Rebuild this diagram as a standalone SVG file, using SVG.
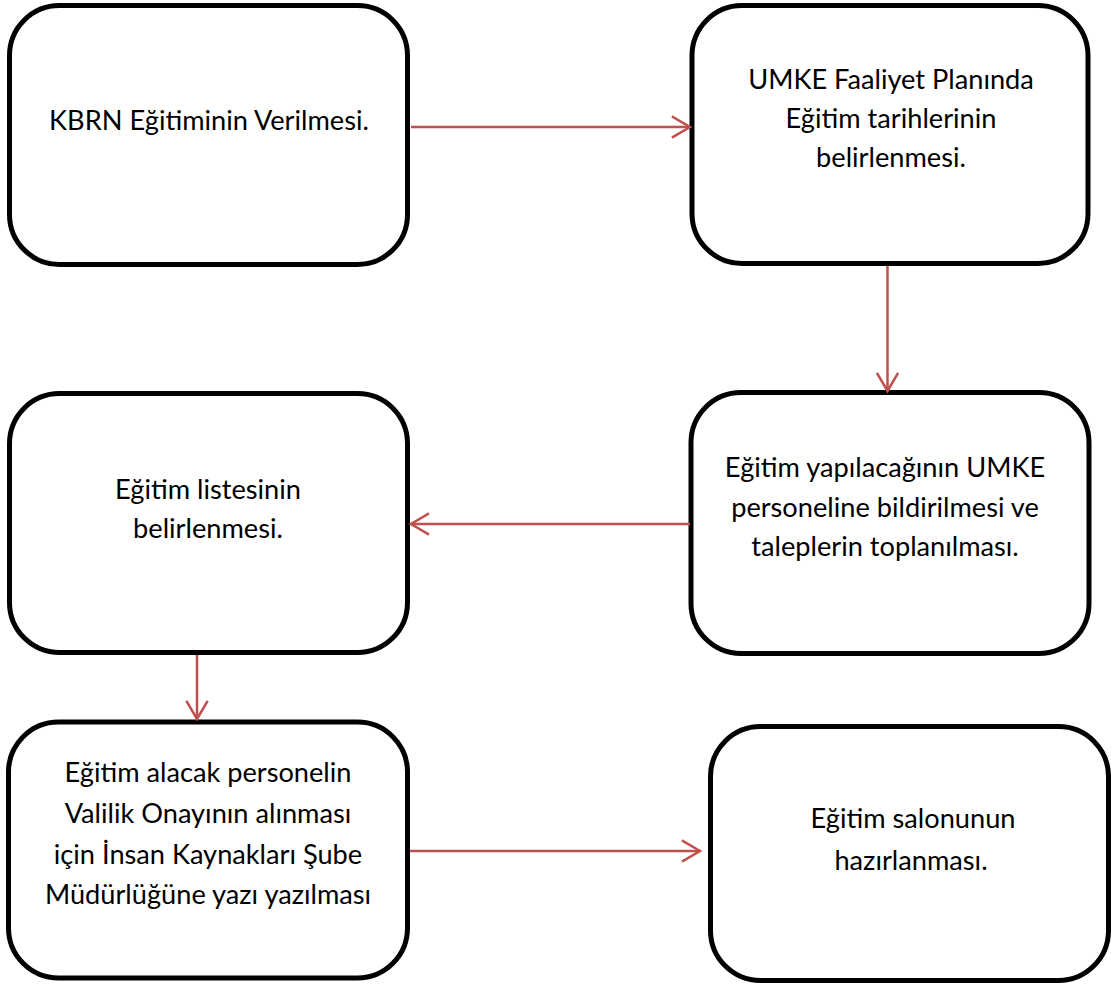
<svg xmlns="http://www.w3.org/2000/svg" width="1111" height="984" viewBox="0 0 1111 984">
  <style>
    .box { fill: #ffffff; stroke: #000000; stroke-width: 5; }
    .lbl { font-family: Lato, "Noto Sans", "Liberation Sans", sans-serif; font-size: 27.2px; fill: #000000; text-anchor: middle; }
    .link { stroke: #C0504D; stroke-width: 2.5; fill: none; }
    .head { stroke: #C0504D; stroke-width: 2.5; fill: none; stroke-linecap: square; }
  </style>
  <rect width="1111" height="984" fill="#ffffff"/>

  <g id="node-kbrn">
    <rect class="box" x="9.5" y="5.5" width="398" height="259" rx="50" ry="50"/>
    <text class="lbl" x="209" y="130">KBRN Eğitiminin Verilmesi.</text>
  </g>

  <g id="node-plan">
    <rect class="box" x="692" y="5.5" width="396" height="258" rx="50" ry="50"/>
    <text class="lbl" x="891" y="89">UMKE Faaliyet Planında</text>
    <text class="lbl" x="891" y="128">Eğitim tarihlerinin</text>
    <text class="lbl" x="891" y="167">belirlenmesi.</text>
  </g>

  <g id="node-bildirim">
    <rect class="box" x="691" y="392.5" width="398" height="261" rx="50" ry="50"/>
    <text class="lbl" x="885" y="477">Eğitim yapılacağının UMKE</text>
    <text class="lbl" x="885" y="517">personeline bildirilmesi ve</text>
    <text class="lbl" x="885" y="556">taleplerin toplanılması.</text>
  </g>

  <g id="node-liste">
    <rect class="box" x="9.5" y="393.5" width="398" height="259" rx="50" ry="50"/>
    <text class="lbl" x="208" y="499">Eğitim listesinin</text>
    <text class="lbl" x="208" y="538">belirlenmesi.</text>
  </g>

  <g id="node-onay">
    <rect class="box" x="8.5" y="722" width="399" height="256" rx="50" ry="50"/>
    <text class="lbl" x="208" y="782">Eğitim alacak personelin</text>
    <text class="lbl" x="208" y="823">Valilik Onayının alınması</text>
    <text class="lbl" x="208" y="864">için İnsan Kaynakları Şube</text>
    <text class="lbl" x="208" y="904">Müdürlüğüne yazı yazılması</text>
  </g>

  <g id="node-salon">
    <rect class="box" x="710.5" y="726.5" width="398" height="254" rx="50" ry="50"/>
    <text class="lbl" x="913" y="828">Eğitim salonunun</text>
    <text class="lbl" x="911" y="870">hazırlanması.</text>
  </g>

  <g id="connectors">
    <!-- KBRN -> plan -->
    <line class="link" x1="411" y1="127" x2="690" y2="127"/>
    <polyline class="head" points="673,117 690,127 673,137"/>
    <!-- plan -> bildirim -->
    <line class="link" x1="887.5" y1="266" x2="887.5" y2="391"/>
    <polyline class="head" points="877.5,374 887.5,391 897.5,374"/>
    <!-- bildirim -> liste -->
    <line class="link" x1="690" y1="524" x2="411" y2="524"/>
    <polyline class="head" points="428,514 411,524 428,534"/>
    <!-- liste -> onay -->
    <line class="link" x1="197" y1="655" x2="197" y2="719"/>
    <polyline class="head" points="187,702 197,719 207,702"/>
    <!-- onay -> salon -->
    <line class="link" x1="410" y1="851" x2="700" y2="851"/>
    <polyline class="head" points="683,841 700,851 683,861"/>
  </g>
</svg>
